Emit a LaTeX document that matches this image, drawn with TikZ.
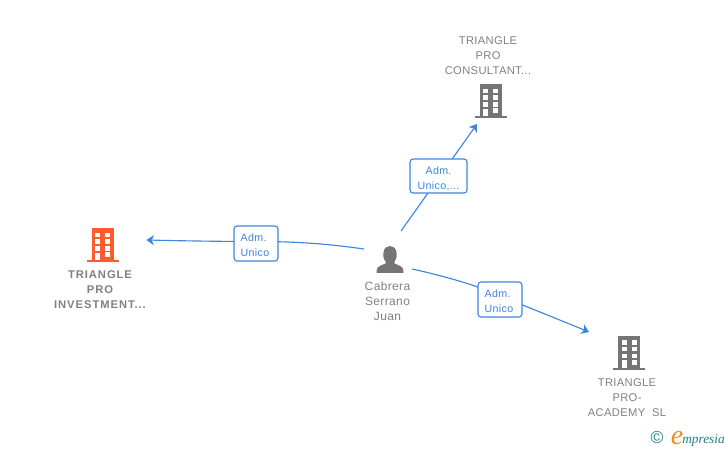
\documentclass[tikz,border=0pt]{standalone}
\usepackage{fontspec}
\setmainfont{Liberation Sans}
\newfontfamily\logofont{Liberation Serif}
\usetikzlibrary{arrows.meta}
\definecolor{linkblue}{HTML}{3D85E0}
\definecolor{labelgrey}{HTML}{808080}
\definecolor{bldgrey}{HTML}{757575}
\definecolor{bldorange}{HTML}{FF5C2B}
\definecolor{logoteal}{HTML}{1F7F86}
\definecolor{logoorange}{HTML}{F08A24}
\tikzset{
  x=0.75pt,y=-0.75pt,
  link/.style={draw=linkblue,line width=0.85pt},
  arrowlink/.style={link,-{Stealth[length=5.5pt,width=7.5pt,inset=1.5pt]}},
  badge/.style={draw=linkblue,line width=0.8pt,rounded corners=2.2pt,fill=white,inner sep=0pt,
    text=linkblue,font=\fontsize{8pt}{11.25pt}\selectfont\addfontfeature{LetterSpace=3}},
  shortbadge/.style={badge,minimum width=33pt,align=left,text width=23pt,inner xsep=5pt,text height=11.25pt,text depth=15pt},
  caption/.style={align=center,text=labelgrey,inner sep=0pt,font=\fontsize{8.4pt}{11.2pt}\selectfont\addfontfeature{LetterSpace=3}},
  boldcaption/.style={align=center,text=labelgrey,inner sep=0pt,font=\fontsize{8.4pt}{11.2pt}\selectfont\bfseries\addfontfeature{LetterSpace=8.5}},
  personcaption/.style={align=center,text=labelgrey,inner sep=0pt,font=\fontsize{9pt}{11.25pt}\selectfont\addfontfeature{LetterSpace=3}},
  pics/building/.style={code={
    \fill[#1] (-11,-17) rectangle (11,15);
    \fill[#1] (-16,15) rectangle (16,17);
    \foreach \xx in {-7.5,2.5}{\foreach \yy in {-12.5,-5.7,1}{\fill[white] (\xx,\yy) rectangle ++(5,4.5);}}
    \fill[white] (-7.5,7.7) rectangle (-2.5,15);
    \fill[white] (2.5,7) rectangle (7.5,12);
  }},
}
\begin{document}
\begin{tikzpicture}
\useasboundingbox (0,0) rectangle (728,450);
% person glyph
\fill[bldgrey] (376.7,272.8) -- (376.7,270) .. controls (377,266.5) and (381,265.5) .. (385.5,263.5)
  -- (385.5,261.5)
  .. controls (383,258.5) and (383,254) .. (383.6,252)
  .. controls (384,248) and (387,246) .. (390,246)
  .. controls (393,246) and (396,248) .. (396.4,252)
  .. controls (397,254) and (397,258.5) .. (394.5,261.5)
  -- (394.5,263.5)
  .. controls (399,265.5) and (403,266.5) .. (403.3,270) -- (403.3,272.8) -- cycle;
\pic at (102.5,245) {building=bldorange};
\pic at (490.5,101) {building=bldgrey};
\pic at (629,352.5) {building=bldgrey};
% captions
\node[boldcaption] (inv) at (100,290) {TRIANGLE\\PRO\\INVESTMENT...};
\node[caption] (con) at (488,56) {TRIANGLE\\PRO\\CONSULTANT...};
\node[caption] (aca) at (627,398) {TRIANGLE\\PRO-\\ACADEMY\ \ SL};
\node[personcaption] (per) at (387.5,301.5) {Cabrera\\Serrano\\Juan};
% connector ends
\coordinate (fromA) at (364,249);
\coordinate (toA) at (146.5,240);
\coordinate (fromB) at (401,231);
\coordinate (toB) at (477,124);
\coordinate (fromC) at (412,269);
\coordinate (toC) at (589,332);
% connectors, each running under its badge
\draw[arrowlink] (fromA) .. controls (325,243.5) and (295,241.5) .. (256,241.5) .. controls (225,241.5) and (190,241) .. (toA);
\draw[arrowlink] (fromB) -- (toB);
\draw[arrowlink] (fromC) .. controls (440,275) and (480,286) .. (500,296) .. controls (525,306) and (560,320) .. (toC);
% badges
\node[shortbadge] (bA) at (256,243.5) {Adm.\\Unico};
\node[badge,minimum width=42.75pt,align=center,text height=22.5pt,text depth=3pt] (bB) at (438.5,176) {Adm.\\Unico,...};
\node[shortbadge] (bC) at (500,299.5) {Adm.\\Unico};
% logo
\node[inner sep=0pt,text=logoteal,font=\fontsize{13pt}{13pt}\selectfont] (cpy) at (657,438) {\textcopyright};
\node[inner sep=0pt,anchor=base west,text=logoorange,font=\logofont\itshape\fontsize{21pt}{21pt}\selectfont] (ee) at (670.5,444.5) {e};
\node[inner sep=0pt,anchor=base west,text=logoteal,font=\logofont\itshape\fontsize{10pt}{11pt}\selectfont] (mp) at (682,443) {mpresia};
\end{tikzpicture}
\end{document}
